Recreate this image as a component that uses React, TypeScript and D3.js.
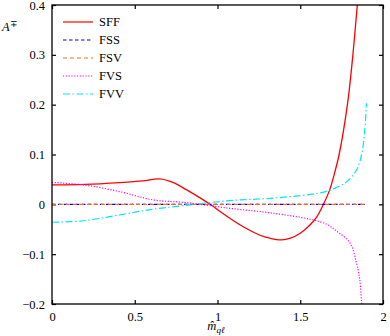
import React from "react";
import * as d3 from "d3";

const xTicks = [0, 0.5, 1, 1.5, 2];
const yTicks = [-0.2, -0.1, 0, 0.1, 0.2, 0.3, 0.4];

// SFF (solid red)
const sffX = [0, 0.2, 0.41, 0.55, 0.65, 0.733, 0.814, 0.914, 0.955, 1.075, 1.156, 1.257, 1.317, 1.388, 1.44, 1.5, 1.56, 1.6, 1.64, 1.68, 1.71, 1.735, 1.785, 1.818, 1.845, 1.86];
const sffY = [0.039, 0.04, 0.0436, 0.047, 0.051, 0.0436, 0.029, 0.009, 0, -0.028, -0.045, -0.062, -0.068, -0.0715, -0.068, -0.058, -0.041, -0.025, 0, 0.031, 0.066, 0.1, 0.2, 0.3, 0.4, 0.45];

// FSS (blue dashed) and FSV (orange dashed)
const fssX = [0, 0.5, 1, 1.5, 1.89];
const fssY = [0, 0, 0, 0, 0];
const fsvX = [0, 0.5, 1, 1.5, 1.89];
const fsvY = [0, 0, 0, 0, 0];

// FVS (magenta dotted)
const fvsX = [0, 0.19, 0.41, 0.61, 0.81, 1.075, 1.317, 1.56, 1.66, 1.72, 1.8, 1.84, 1.86, 1.871];
const fvsY = [0.044, 0.039, 0.0255, 0.009, 0.0035, -0.008, -0.017, -0.03, -0.04, -0.054, -0.077, -0.118, -0.152, -0.2];

// FVV (cyan dash-dot)
const fvvX = [0, 0.19, 0.41, 0.61, 0.81, 1.075, 1.317, 1.56, 1.66, 1.72, 1.78, 1.84, 1.871, 1.89, 1.9];
const fvvY = [-0.036, -0.033, -0.021, -0.0098, -0.002, 0.0075, 0.012, 0.02, 0.026, 0.034, 0.045, 0.069, 0.1, 0.15, 0.203];

const seriesNames = ["SFF", "FSS", "FSV", "FVS", "FVV"];
const seriesColors = ["#ff0000", "#0000ff", "#ff6a1a", "#ff00ff", "#00e8f0"];
const seriesDash = [null, "3.5 2.5", "4 3", "1.2 1.6", "7 2.5 1.5 2.5"];
const seriesX = [sffX, fssX, fsvX, fvsX, fvvX];
const seriesY = [sffY, fssY, fsvY, fvsY, fvvY];

const W = 390;
const H = 336;
const margin = { left: 52, right: 7, top: 5, bottom: 32 };
const font = "Liberation Serif";
const fs = 12.5;

export default function App() {
  const svgRef = React.useRef<SVGSVGElement>(null);

  React.useEffect(() => {
    const svg = d3.select(svgRef.current);
    svg.selectAll("*").remove();

    const x = d3.scaleLinear().domain([0, 2]).range([margin.left, W - margin.right]);
    const y = d3.scaleLinear().domain([-0.2, 0.4]).range([H - margin.bottom, margin.top]);

    svg
      .append("clipPath")
      .attr("id", "plot-clip")
      .append("rect")
      .attr("x", x(0))
      .attr("y", y(0.4))
      .attr("width", x(2) - x(0))
      .attr("height", y(-0.2) - y(0.4));

    // axes, ticks point inward on every side
    const fmt = (d: any) => (d === 0 ? "0" : String(d).replace("-", "\u2212"));
    const left = svg
      .append("g")
      .attr("transform", `translate(${x(0)},0)`)
      .call(d3.axisLeft(y).tickValues(yTicks).tickSize(-4).tickPadding(7).tickFormat(fmt));
    const bottom = svg
      .append("g")
      .attr("transform", `translate(0,${y(-0.2)})`)
      .call(d3.axisBottom(x).tickValues(xTicks).tickSize(-4).tickPadding(8).tickFormat(fmt));
    const right = svg
      .append("g")
      .attr("transform", `translate(${x(2)},0)`)
      .call(d3.axisRight(y).tickValues(yTicks).tickSize(-4).tickFormat(() => ""));
    const top = svg
      .append("g")
      .attr("transform", `translate(0,${y(0.4)})`)
      .call(d3.axisTop(x).tickValues(xTicks).tickSize(-4).tickFormat(() => ""));
    [left, bottom, right, top].forEach((g) => {
      g.attr("font-family", font).attr("font-size", fs);
      g.select(".domain").remove();
      g.selectAll("line").attr("stroke", "#000").attr("stroke-width", 1.2);
      g.selectAll("text").attr("fill", "#000");
    });

    // curves
    const lineGen = d3
      .line<[number, number]>()
      .x((d) => x(d[0]))
      .y((d) => y(d[1]))
      .curve(d3.curveCatmullRom.alpha(0.5));

    const plot = svg.append("g").attr("clip-path", "url(#plot-clip)");
    seriesNames.forEach((name, i) => {
      const pts = seriesX[i].map((v, j) => [v, seriesY[i][j]] as [number, number]);
      plot
        .append("path")
        .attr("d", lineGen(pts))
        .attr("fill", "none")
        .attr("stroke", seriesColors[i])
        .attr("stroke-width", i === 0 ? 1.3 : 1.2)
        .attr("stroke-dasharray", seriesDash[i]);
    });

    // frame
    svg
      .append("rect")
      .attr("x", x(0))
      .attr("y", y(0.4))
      .attr("width", x(2) - x(0))
      .attr("height", y(-0.2) - y(0.4))
      .attr("fill", "none")
      .attr("stroke", "#000")
      .attr("stroke-width", 1.3);

    // legend
    const legend = svg.append("g").attr("transform", "translate(63,22)");
    seriesNames.forEach((name, i) => {
      const row = legend.append("g").attr("transform", `translate(0,${i * 18})`);
      row
        .append("line")
        .attr("x1", 0)
        .attr("x2", 30)
        .attr("stroke", seriesColors[i])
        .attr("stroke-width", 1.2)
        .attr("stroke-dasharray", seriesDash[i]);
      row
        .append("text")
        .attr("x", 36)
        .attr("dy", "0.35em")
        .attr("font-family", font)
        .attr("font-size", fs)
        .text(name);
    });

    // axis titles
    const yl = svg
      .append("text")
      .attr("x", 2)
      .attr("y", 31)
      .attr("font-family", font)
      .attr("font-size", fs);
    yl.append("tspan").attr("font-style", "italic").text("A");
    yl.append("tspan").attr("dy", -4).attr("font-size", 9).text("\u2213");

    const xl = svg
      .append("text")
      .attr("x", 216)
      .attr("y", 330)
      .attr("text-anchor", "middle")
      .attr("font-family", font)
      .attr("font-size", fs);
    xl.append("tspan").attr("font-style", "italic").text("m\u0302");
    xl.append("tspan").attr("dy", 3).attr("font-size", 9).attr("font-style", "italic").text("q\u2113");
  }, []);

  return (
    <div style={{ position: "absolute", left: 0, top: 0 }}>
      <svg ref={svgRef} width={W} height={H} style={{ display: "block", background: "#fff" }} />
    </div>
  );
}
